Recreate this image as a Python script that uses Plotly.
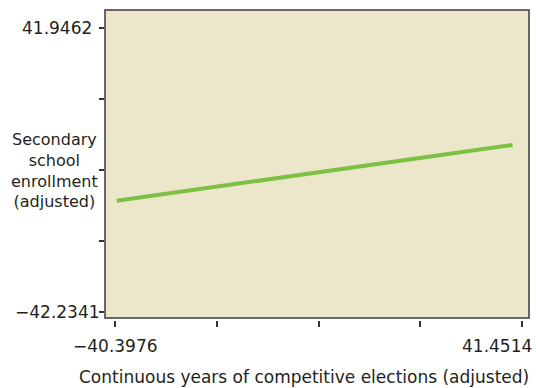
import plotly.graph_objects as go

# Data
x_vals = [-40.05, 39.55]
y_vals = [-9.24, 7.27]
x_ticks = [-40.3976, -19.9354, 0.5269, 20.9892, 41.4514]
y_ticks = [-42.2341, -21.2890, -0.1439, 20.9012, 41.9462]
x_tick_labels = ["\u221240.3976", "", "", "", "41.4514"]
y_tick_labels = ["\u221242.2341", "", "", "", "41.9462"]
x_title = "Continuous years of competitive elections (adjusted)"
y_title = "Secondary<br>school<br>enrollment<br>(adjusted)"

FONT = "DejaVu Sans"
TXT = "#231f20"
W, H = 536, 388
L, R, T, B = 105, 7, 10, 68
PH = H - T - B

fig = go.Figure()
fig.add_trace(go.Scatter(x=x_vals, y=y_vals, mode="lines",
                         line=dict(color="#7cc143", width=4), hoverinfo="skip"))

fig.update_layout(
    width=W, height=H,
    margin=dict(l=L, r=R, t=T, b=B),
    paper_bgcolor="white",
    plot_bgcolor="#ece7ca",
    showlegend=False,
    font=dict(family=FONT, size=17, color=TXT),
    xaxis=dict(range=[-42.409, 42.859], tickvals=x_ticks, ticktext=[""] * 5,
               ticks="outside", ticklen=6, tickwidth=1.5, tickcolor="#333",
               showgrid=False, zeroline=False, showline=False,
               anchor="free", position=0, fixedrange=True),
    yaxis=dict(range=[-44.012, 47.282], domain=[2 / PH, 1], tickvals=y_ticks,
               ticktext=[""] * 5, ticks="outside", ticklen=5, tickwidth=1.5,
               tickcolor="#333", showgrid=False, zeroline=False, showline=False,
               fixedrange=True),
)

fig.add_shape(type="rect", xref="x domain", yref="y domain", x0=0, x1=1, y0=0, y1=1,
              line=dict(color="#3a3a3a", width=1.5), fillcolor="rgba(0,0,0,0)", layer="above")

# tick labels
fig.add_annotation(x=x_ticks[0], xref="x", y=0, yref="paper", text=x_tick_labels[0],
                   showarrow=False, xanchor="center", yanchor="middle", yshift=-26)
fig.add_annotation(x=x_ticks[-1], xref="x", y=0, yref="paper", text=x_tick_labels[-1],
                   showarrow=False, xanchor="right", yanchor="middle", yshift=-26, xshift=12)
fig.add_annotation(x=0, xref="paper", y=y_ticks[-1], yref="y", text=y_tick_labels[-1],
                   showarrow=False, xanchor="center", yanchor="middle", xshift=-48)
fig.add_annotation(x=0, xref="paper", y=y_ticks[0], yref="y", text=y_tick_labels[0],
                   showarrow=False, xanchor="center", yanchor="middle", xshift=-48)

# axis titles
fig.add_annotation(x=0, xref="paper", y=0.5, yref="paper", text=y_title, align="center",
                   showarrow=False, xanchor="center", yanchor="middle", xshift=-51, yshift=-5,
                   font=dict(size=16))
fig.add_annotation(x=0, xref="paper", y=0, yref="paper", text=x_title,
                   showarrow=False, xanchor="center", yanchor="middle",
                   xshift=304 - L, yshift=-(377 - (H - B)))

fig.write_html("out.html", config={"displayModeBar": False},
               post_script="document.body.style.margin='0';")
